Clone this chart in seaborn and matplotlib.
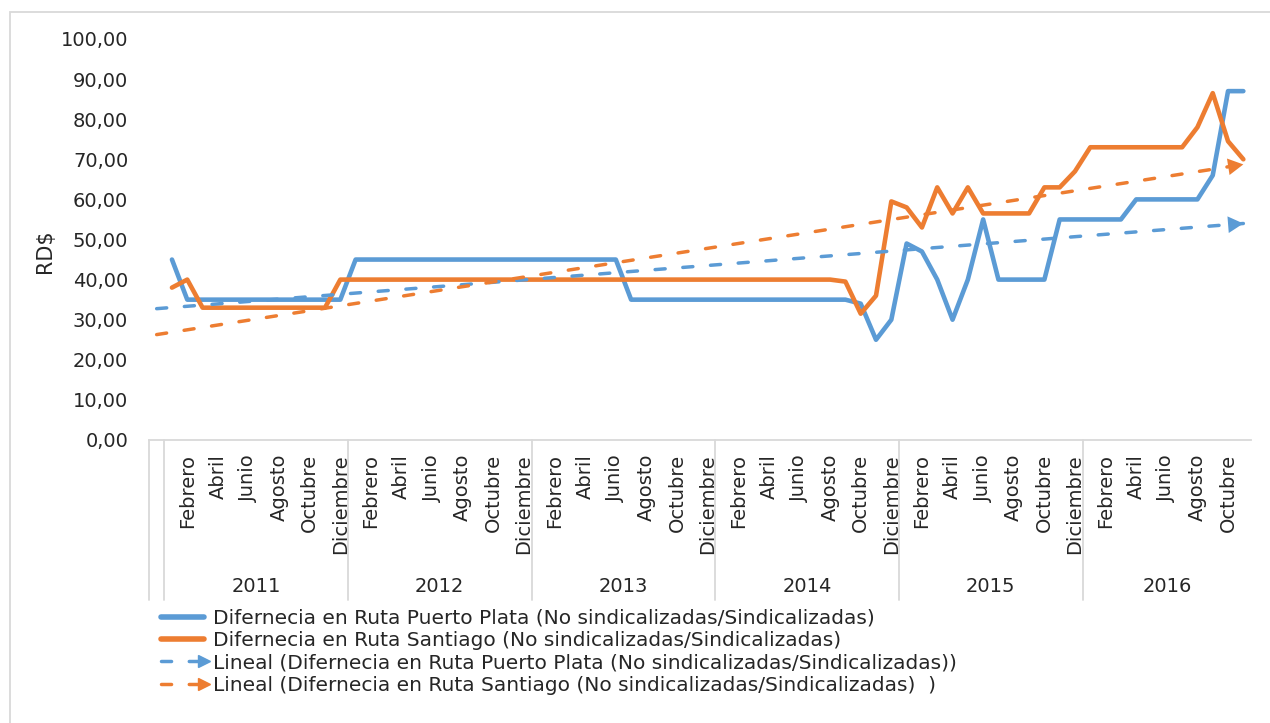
import numpy as np
import pandas as pd
import seaborn as sns
import matplotlib.pyplot as plt
import matplotlib.transforms as mtransforms
from matplotlib.lines import Line2D
from matplotlib.patches import Rectangle
from matplotlib.legend_handler import HandlerLine2D

# Datos mensuales (enero 2011 - noviembre 2016), RD$
years = ['2011', '2012', '2013', '2014', '2015', '2016']
month_names = ['Enero', 'Febrero', 'Marzo', 'Abril', 'Mayo', 'Junio', 'Julio',
               'Agosto', 'Septiembre', 'Octubre', 'Noviembre', 'Diciembre']

puerto_plata = [
    45, 35, 35, 35, 35, 35, 35, 35, 35, 35, 35, 35,          # 2011
    45, 45, 45, 45, 45, 45, 45, 45, 45, 45, 45, 45,          # 2012
    45, 45, 45, 45, 45, 45, 35, 35, 35, 35, 35, 35,          # 2013
    35, 35, 35, 35, 35, 35, 35, 35, 35, 34, 25, 30,          # 2014
    49, 47, 40, 30, 40, 55, 40, 40, 40, 40, 55, 55,          # 2015
    55, 55, 55, 60, 60, 60, 60, 60, 66, 87, 87,              # 2016
]
santiago = [
    38, 40, 33, 33, 33, 33, 33, 33, 33, 33, 33, 40,          # 2011
    40, 40, 40, 40, 40, 40, 40, 40, 40, 40, 40, 40,          # 2012
    40, 40, 40, 40, 40, 40, 40, 40, 40, 40, 40, 40,          # 2013
    40, 40, 40, 40, 40, 40, 40, 40, 39.5, 31.5, 36, 59.5,    # 2014
    58, 53, 63, 56.5, 63, 56.5, 56.5, 56.5, 56.5, 63, 63, 67,  # 2015
    73, 73, 73, 73, 73, 73, 73, 78, 86.5, 74.5, 70,          # 2016
]

label_pp = 'Difernecia en Ruta Puerto Plata (No sindicalizadas/Sindicalizadas)'
label_st = 'Difernecia en Ruta Santiago (No sindicalizadas/Sindicalizadas)'
label_tpp = 'Lineal (Difernecia en Ruta Puerto Plata (No sindicalizadas/Sindicalizadas))'
label_tst = 'Lineal (Difernecia en Ruta Santiago (No sindicalizadas/Sindicalizadas)  )'

blue = '#5B9BD5'
orange = '#ED7D31'
grid_gray = '#D9D9D9'


class EndArrowHandler(HandlerLine2D):
    # legend entry: dashed line with the marker only at the right end
    def create_artists(self, *args, **kwargs):
        arts = super().create_artists(*args, **kwargs)
        for a in arts:
            a.set_markevery([len(a.get_xdata()) - 1])
        return arts


sns.set_style('white')
plt.rcParams['font.family'] = ['DejaVu Sans']

# category 0 is an empty slot, data starts at 1
n = len(puerto_plata)
xs = np.arange(1, n + 1)
df = pd.DataFrame({
    'idx': np.concatenate([xs, xs]),
    'valor': puerto_plata + santiago,
    'serie': [label_pp] * n + [label_st] * n,
})

fig = plt.figure(figsize=(12.7, 7.23), dpi=100)
ax = fig.add_axes([149 / 1270, 1 - 440 / 723, (1251 - 149) / 1270, (440 - 39) / 723])

sns.lineplot(data=df, x='idx', y='valor', hue='serie', palette=[blue, orange],
             linewidth=3.3, ax=ax, legend=False,
             solid_joinstyle='round', solid_capstyle='round')

# linear trendlines over the whole category range
tx = np.arange(0, n + 1)
for vals, col in [(puerto_plata, blue), (santiago, orange)]:
    coef = np.polyfit(xs, vals, 1)
    ty = np.polyval(coef, tx)
    ax.plot(tx, ty, color=col, lw=2.5, ls=(0, (2.9, 5.1)), dash_capstyle='round')
    ax.annotate('', xy=(tx[-1], ty[-1]), xytext=(tx[-1] - 0.6, np.polyval(coef, tx[-1] - 0.6)),
                arrowprops=dict(arrowstyle='-|>,head_length=0.55,head_width=0.3',
                                color=col, lw=0, mutation_scale=20,
                                shrinkA=0, shrinkB=0))

ax.set_xlim(-0.5, n + 0.5)
ax.set_ylim(0, 100)
ax.set_yticks(np.arange(0, 101, 10))
ax.set_yticklabels([f'{v:.2f}'.replace('.', ',') for v in range(0, 101, 10)])

# month labels every second month
ticks = [k for k in range(1, n + 1) if k % 2 == 0]
ax.set_xticks(ticks)
ax.set_xticklabels([month_names[(k - 1) % 12] for k in ticks], rotation=90, va='top')
ax.tick_params(axis='x', length=0, pad=10, labelsize=14)
ax.tick_params(axis='y', length=0, pad=15, labelsize=14)
ax.set_xlabel('')
ax.set_ylabel('RD$', fontsize=15)
ax.yaxis.set_label_coords(-0.085, 0.47)

for side in ['top', 'right', 'left']:
    ax.spines[side].set_visible(False)
ax.spines['bottom'].set_color(grid_gray)
ax.spines['bottom'].set_linewidth(1.3)

# year groups below the month labels
trans = mtransforms.blended_transform_factory(ax.transData, ax.transAxes)
bounds = [-0.5, 0.5, 12.5, 24.5, 36.5, 48.5, 60.5]
for b in bounds:
    ax.plot([b, b], [0, -0.4], transform=trans, clip_on=False, color=grid_gray, lw=1.3)
for i, yr in enumerate(years):
    lo = 0.5 + 12 * i
    hi = min(lo + 12, n + 0.5)
    ax.text((lo + hi) / 2, -0.365, yr, transform=trans, ha='center', va='center', fontsize=14)

# legend
handles = [
    Line2D([], [], color=blue, lw=4, solid_capstyle='round'),
    Line2D([], [], color=orange, lw=4, solid_capstyle='round'),
    Line2D([], [], color=blue, lw=2.5, ls=(0, (2.9, 5.1)), dash_capstyle='round',
           marker='>', markersize=9),
    Line2D([], [], color=orange, lw=2.5, ls=(0, (2.9, 5.1)), dash_capstyle='round',
           marker='>', markersize=9),
]
fig.legend(handles, [label_pp, label_st, label_tpp, label_tst], loc='upper left',
           bbox_to_anchor=(155 / 1270, 1 - 609 / 723), frameon=False, fontsize=14.5,
           handlelength=2.75, handletextpad=0.15, labelspacing=0.16, numpoints=2,
           borderpad=0, borderaxespad=0,
           handler_map={handles[2]: EndArrowHandler(), handles[3]: EndArrowHandler()})

# chart area border
fig.patches.append(Rectangle((10 / 1270, -0.1), 1.2, 1 - 12 / 723 + 0.1, transform=fig.transFigure,
                             fill=False, edgecolor=grid_gray, lw=1.3))

fig.savefig('out.png', dpi=100)
